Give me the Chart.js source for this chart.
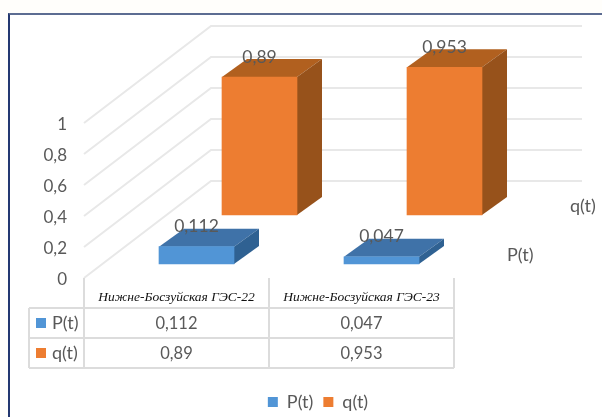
<!DOCTYPE html>
<html>
<head>
<meta charset="utf-8">
<style>
  html, body { margin: 0; padding: 0; width: 602px; height: 417px; overflow: hidden; background: #fffefb; }
  #frame { position: absolute; left: 8px; top: 13px; width: 700px; height: 500px; background: #fff;
           border-top: 2px solid #5c6c92; border-left: 2px solid #24386f; }
  canvas { position: absolute; left: 0; top: 0; }
</style>
<script src="https://cdn.jsdelivr.net/npm/chart.js@4/dist/chart.umd.js"></script>
</head>
<body>
<div id="frame"></div>
<canvas id="chart" width="602" height="417"></canvas>
<script>
// Reliability indicators of the two Lower Bozsu hydro plants
const categories = ['Нижне-Босзуйская ГЭС-22', 'Нижне-Босзуйская ГЭС-23'];
const seriesNames = ['P(t)', 'q(t)'];
const pValues = [0.112, 0.047];
const qValues = [0.89, 0.953];

const FONT = 'Lato, sans-serif';
const TEXT = '#595959';
const GRID = '#e8e8e8';
const TABLE_LINE = '#dcdcdc';
const COLORS = [
  { front: '#5195d6', top: '#3f72a8', side: '#2f6192' },
  { front: '#ed7d31', top: '#b1601f', side: '#97521b' }
];

// Oblique projection: the floor recedes up and to the right
const WALL_DX = 127, WALL_DY = -97;
const ROW_SHIFT = [{ dx: 20, dy: -14 }, { dx: 83, dy: -63 }];
const BAR_DX = 25, BAR_DY = -18;

const comma = v => String(v).replace('.', ',');

function poly(ctx, pts, fill) {
  ctx.beginPath();
  pts.forEach((p, i) => i ? ctx.lineTo(p[0], p[1]) : ctx.moveTo(p[0], p[1]));
  ctx.closePath();
  ctx.fillStyle = fill;
  ctx.fill();
}

function line(ctx, x0, y0, x1, y1) {
  ctx.beginPath();
  ctx.moveTo(x0, y0);
  ctx.lineTo(x1, y1);
  ctx.stroke();
}

const scene3d = {
  id: 'scene3d',
  // Move each series' front faces onto its own depth row
  afterDatasetsUpdate(chart) {
    chart.getSortedVisibleDatasetMetas().forEach(meta => {
      const s = ROW_SHIFT[meta.index];
      meta.data.forEach(el => { el.x += s.dx; el.y += s.dy; el.base += s.dy; });
    });
  },
  // The legend sits under the whole frame rather than under the plot
  afterLayout(chart) {
    const lg = chart.legend;
    lg.left += 91; lg.right += 91;
    lg.top = 383;
  },
  // Side wall and back wall gridlines
  beforeDatasetsDraw(chart) {
    const { ctx, scales: { y }, chartArea: a } = chart;
    ctx.save();
    ctx.strokeStyle = GRID;
    ctx.lineWidth = 2;
    y.ticks.forEach(t => {
      const py = y.getPixelForValue(t.value);
      ctx.beginPath();
      ctx.moveTo(a.left, py);
      ctx.lineTo(a.left + WALL_DX, py + WALL_DY);
      ctx.lineTo(a.right + WALL_DX + 1, py + WALL_DY);
      ctx.stroke();
    });
    ctx.restore();
  },
  // Top and right faces of each bar
  beforeDatasetDraw(chart, args) {
    const { ctx } = chart;
    const c = COLORS[args.meta.index];
    args.meta.data.forEach(el => {
      const l = el.x - el.width / 2, r = el.x + el.width / 2;
      poly(ctx, [[l, el.y], [r, el.y], [r + BAR_DX, el.y + BAR_DY], [l + BAR_DX, el.y + BAR_DY]], c.top);
      poly(ctx, [[r, el.y], [r + BAR_DX, el.y + BAR_DY], [r + BAR_DX, el.base + BAR_DY], [r, el.base]], c.side);
    });
  },
  afterDatasetsDraw(chart) {
    const { ctx, scales: { x }, chartArea: a } = chart;
    ctx.save();
    ctx.textAlign = 'center';
    ctx.textBaseline = 'middle';
    ctx.fillStyle = TEXT;

    // Value labels above the bars
    ctx.font = '17.5px ' + FONT;
    chart.getSortedVisibleDatasetMetas().forEach(meta => {
      meta.data.forEach((el, i) => {
        const v = chart.data.datasets[meta.index].data[i];
        ctx.fillText(comma(v), el.x, el.y - 20);
      });
    });

    // Depth axis names
    ctx.font = '18px ' + FONT;
    ctx.textAlign = 'left';
    seriesNames.forEach((name, i) => {
      const s = ROW_SHIFT[i];
      ctx.fillText(name, a.right + s.dx + 33, a.bottom + s.dy - 9);
    });

    // Data table beneath the plot
    const rowLines = [308, 338, 368];
    const tableLeft = 29;
    const mid = (a.left + a.right) / 2;
    ctx.strokeStyle = TABLE_LINE;
    ctx.lineWidth = 2;
    rowLines.forEach(ry => line(ctx, tableLeft, ry, a.right, ry));
    line(ctx, tableLeft, rowLines[0], tableLeft, rowLines[2]);
    line(ctx, a.left, a.bottom, a.left, rowLines[2]);
    line(ctx, mid, a.bottom, mid, rowLines[2]);
    line(ctx, a.right, a.bottom, a.right, rowLines[2]);

    chart.data.datasets.forEach((ds, row) => {
      const cy = (rowLines[row] + rowLines[row + 1]) / 2;
      ctx.fillStyle = COLORS[row].front;
      ctx.fillRect(36, cy - 5, 10, 10);
      ctx.fillStyle = TEXT;
      ctx.textAlign = 'left';
      ctx.font = '18px ' + FONT;
      ctx.fillText(ds.label, 52, cy);
      ctx.textAlign = 'center';
      ctx.font = '16.5px ' + FONT;
      ds.data.forEach((v, i) => ctx.fillText(comma(v), x.getPixelForTick(i), cy + 1));
    });
    ctx.restore();
  }
};

new Chart(document.getElementById('chart'), {
  type: 'bar',
  data: {
    labels: categories,
    datasets: [
      { label: seriesNames[0], data: pValues, backgroundColor: COLORS[0].front, clip: false },
      { label: seriesNames[1], data: qValues, backgroundColor: COLORS[1].front, clip: false }
    ]
  },
  plugins: [scene3d],
  options: {
    responsive: false,
    animation: false,
    layout: { padding: { top: 123, right: 148, bottom: 0, left: 0 } },
    datasets: { bar: { grouped: false, barThickness: 75 } },
    plugins: {
      tooltip: { enabled: false },
      legend: {
        position: 'bottom',
        labels: { boxWidth: 10, boxHeight: 10, padding: 10, color: TEXT, font: { family: FONT, size: 18 } }
      }
    },
    scales: {
      x: {
        grid: { display: false, drawTicks: false },
        border: { display: false },
        afterFit(axis) { axis.height = 139 - axis.chart.legend.height; },
        ticks: {
          maxRotation: 0,
          padding: 11,
          color: '#111111',
          font: { family: '"Liberation Serif", serif', style: 'italic', size: 13.5 }
        }
      },
      y: {
        min: 0,
        max: 1,
        grid: { display: false, drawTicks: false },
        border: { display: false },
        afterFit(axis) { axis.width = 84; },
        ticks: {
          stepSize: 0.2,
          padding: 17,
          labelOffset: 2,
          color: TEXT,
          font: { family: FONT, size: 17 },
          callback: v => comma(Math.round(v * 10) / 10)
        }
      }
    }
  }
});
</script>
</body>
</html>
